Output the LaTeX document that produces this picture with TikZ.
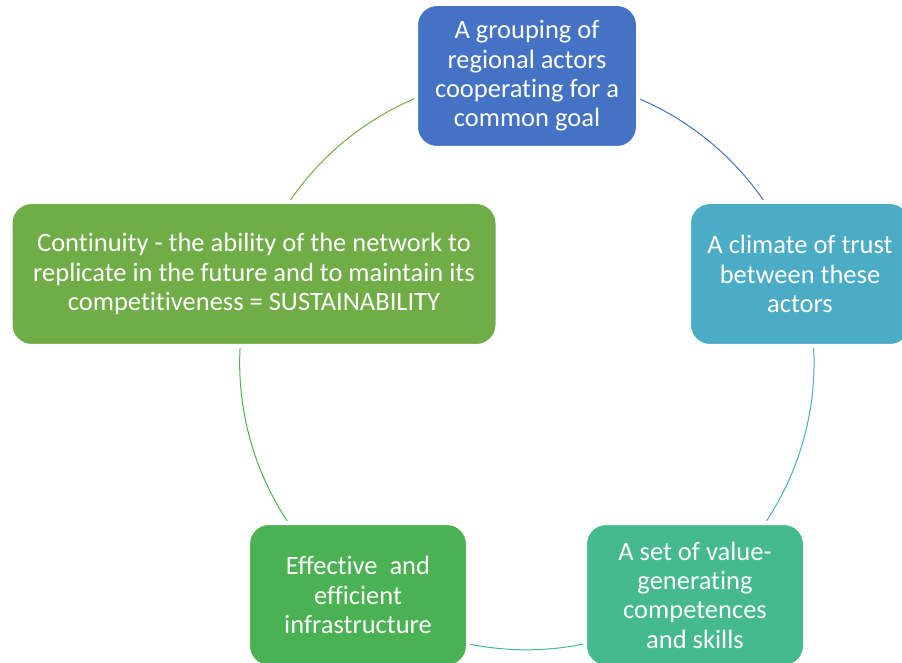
\documentclass[tikz,border=0pt]{standalone}
\usepackage{fontspec}
\setmainfont{Carlito}[Ligatures={NoCommon}]
\usetikzlibrary{backgrounds}
\definecolor{cA}{HTML}{4472C4}
\definecolor{cB}{HTML}{4BACC6}
\definecolor{cC}{HTML}{45BA8D}
\definecolor{cD}{HTML}{4AB252}
\definecolor{cE}{HTML}{70AD47}
\tikzset{
  x=1pt, y=1pt,
  cyclebox/.style={rounded corners=21pt, draw=white, line width=4pt, inner sep=0pt,
    minimum height=144pt, minimum width=222pt, align=center, text=white,
    font=\fontsize{26.5}{29.4}\selectfont},
  ring/.style={line width=1pt},
}
\begin{document}
\begin{tikzpicture}
\useasboundingbox (0,0) rectangle (902,662);
\node[cyclebox, fill=cA] (top) at (527,586) {A grouping of\\regional actors\\cooperating for a\\common goal};
\node[cyclebox, fill=cB] (right) at (800,388) {A climate of trust\\between these\\actors};
\node[cyclebox, fill=cC, minimum width=220pt] (bright) at (695,67) {A set of value-\\generating\\competences\\and skills};
\node[cyclebox, fill=cD, minimum width=220pt] (bleft) at (358,67) {Effective\ \ and\\efficient\\infrastructure};
\node[cyclebox, fill=cE, minimum width=487pt] (left) at (254,388) {Continuity - the ability of the network to\\replicate in the future and to maintain its\\competitiveness = SUSTAINABILITY};
\begin{scope}[on background layer]
\draw[ring, cA] (top.center) arc[start angle=90, end angle=18, radius=287];
\draw[ring, cB] (right.center) arc[start angle=18, end angle=-54, radius=287];
\draw[ring, cC] (bright.center) arc[start angle=-54, end angle=-126, radius=287];
\draw[ring, cD] (bleft.center) arc[start angle=-126, end angle=-198, radius=287];
\draw[ring, cE] (left.center) arc[start angle=162, end angle=90, radius=287];
\end{scope}
\end{tikzpicture}
\end{document}
